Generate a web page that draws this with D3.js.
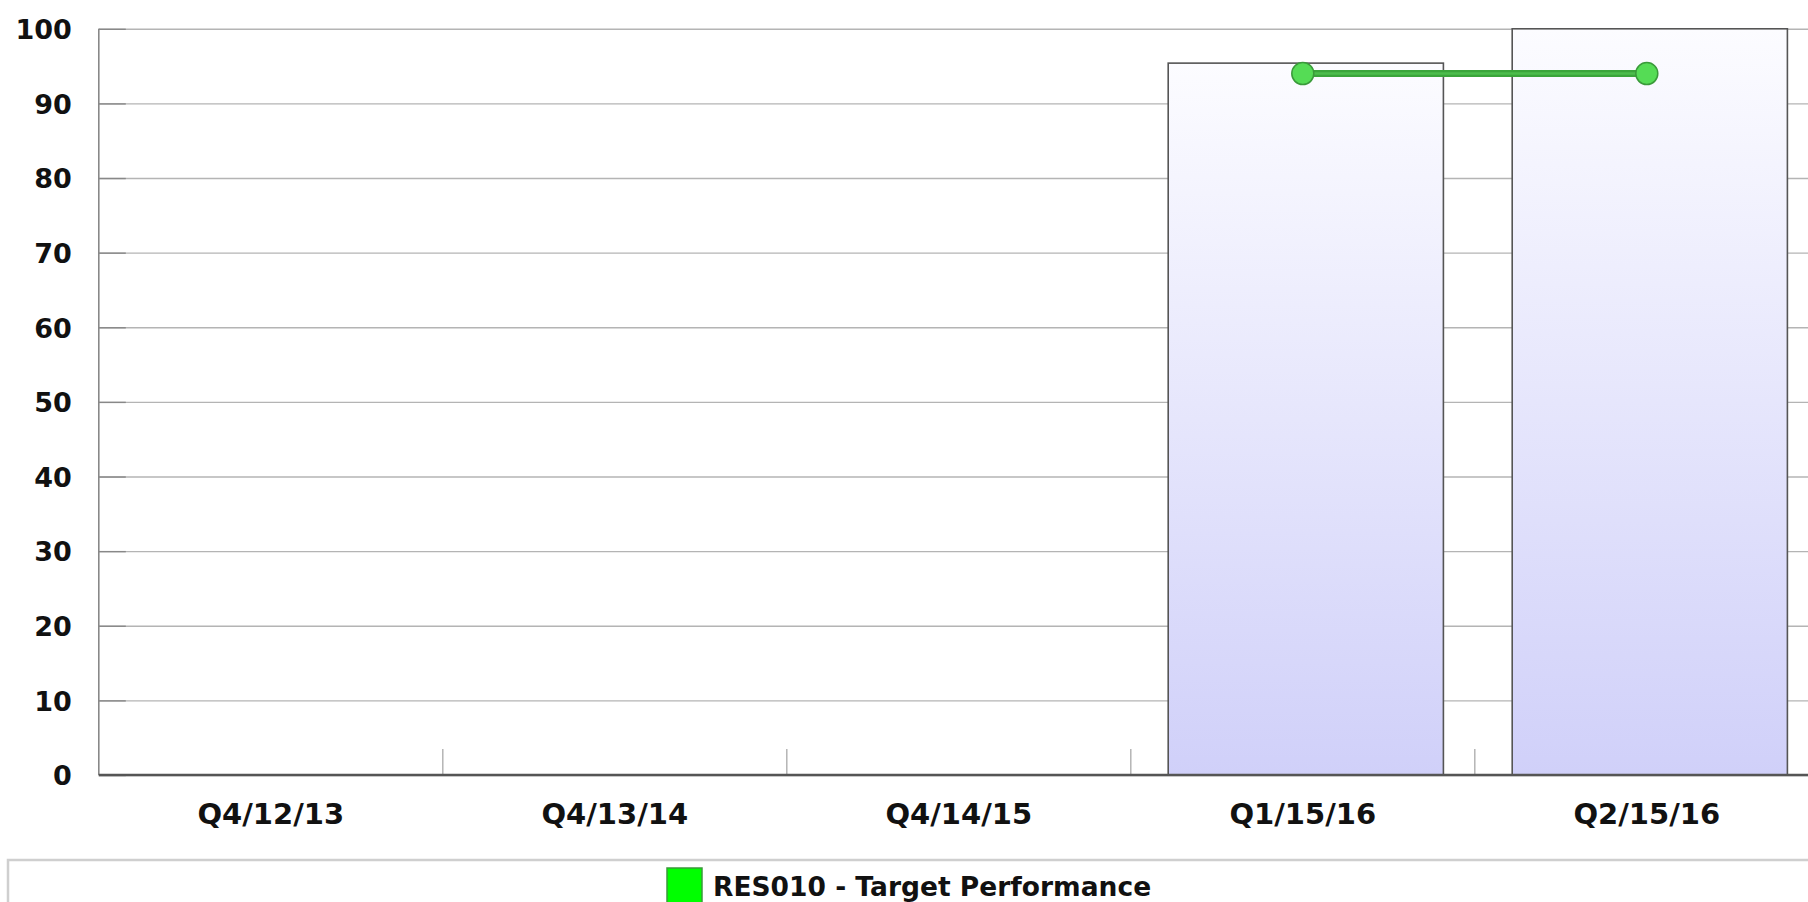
<!DOCTYPE html>
<html>
<head>
<meta charset="utf-8">
<script src="https://cdn.jsdelivr.net/npm/d3@7"></script>
<style>
  body { margin: 0; background: #fff; }
  svg { display: block; }
  .lbl { font-family: "DejaVu Sans", Verdana, sans-serif; font-weight: bold; fill: #111; }
</style>
</head>
<body>
<div id="chart"></div>
<script>
// data
const categories = ["Q4/12/13", "Q4/13/14", "Q4/14/15", "Q1/15/16", "Q2/15/16"];
const actualValues = [null, null, null, 95.4, 100];
const targetValues = [null, null, null, 94, 94];
const yTicks = [0, 10, 20, 30, 40, 50, 60, 70, 80, 90, 100];
const legendLabel = "RES010 - Target Performance";

const W = 1808, H = 902;
const plotLeft = 98.8, step = 344, plotTop = 28.8, plotBottom = 775;

const svg = d3.select("#chart").append("svg")
    .attr("width", W)
    .attr("height", H);

svg.append("rect").attr("width", W).attr("height", H).attr("fill", "#fff");

const x = d3.scaleBand()
    .domain(categories)
    .range([plotLeft, plotLeft + step * categories.length])
    .paddingInner(0.2)
    .paddingOuter(0.1);

const y = d3.scaleLinear()
    .domain([0, 100])
    .range([plotBottom, plotTop]);

// bar gradient
const defs = svg.append("defs");
const grad = defs.append("linearGradient")
    .attr("id", "barGrad")
    .attr("x1", 0).attr("y1", 0).attr("x2", 0).attr("y2", 1);
grad.append("stop").attr("offset", "0%").attr("stop-color", "#fcfcff");
grad.append("stop").attr("offset", "100%").attr("stop-color", "#d0d0f9");

// gridlines
svg.append("g")
    .attr("transform", `translate(${plotLeft},0)`)
    .call(d3.axisLeft(y).tickValues(yTicks).tickSize(-(W - plotLeft)).tickFormat(""))
    .call(g => g.select(".domain").remove())
    .call(g => g.selectAll("line").attr("stroke", "#b4b4b4").attr("stroke-width", 1.4));

// short darker ticks inside the plot
svg.append("g")
    .attr("transform", `translate(${plotLeft},0)`)
    .call(d3.axisRight(y).tickValues(yTicks).tickSize(27).tickFormat(""))
    .call(g => g.select(".domain").remove())
    .call(g => g.selectAll("line").attr("stroke", "#888").attr("stroke-width", 1.4));

// y labels
svg.append("g")
    .attr("transform", `translate(${plotLeft},0)`)
    .call(d3.axisLeft(y).tickValues(yTicks).tickSize(0).tickPadding(27))
    .call(g => g.select(".domain").remove())
    .call(g => g.selectAll("text")
        .attr("class", "lbl")
        .style("font-size", "27px")
        .attr("dy", "0.36em"));

// category separators
const pad = x.step() * x.paddingOuter();
svg.append("g").selectAll("line")
    .data(categories.slice(1))
    .join("line")
    .attr("x1", d => x(d) - pad)
    .attr("x2", d => x(d) - pad)
    .attr("y1", plotBottom - 26)
    .attr("y2", plotBottom)
    .attr("stroke", "#b0b0b0")
    .attr("stroke-width", 1.4);

// bars
svg.append("g").selectAll("rect")
    .data(categories.map((c, i) => ({ c, v: actualValues[i] })).filter(d => d.v != null))
    .join("rect")
    .attr("x", d => x(d.c) + 3)
    .attr("y", d => y(d.v))
    .attr("width", x.bandwidth())
    .attr("height", d => y(0) - y(d.v))
    .attr("fill", "url(#barGrad)")
    .attr("stroke", "#555")
    .attr("stroke-width", 1.6);

// y axis line
svg.append("line")
    .attr("x1", plotLeft).attr("x2", plotLeft)
    .attr("y1", plotTop).attr("y2", plotBottom)
    .attr("stroke", "#888")
    .attr("stroke-width", 1.6);

// x axis
svg.append("g")
    .attr("transform", `translate(0,${plotBottom})`)
    .call(d3.axisBottom(x).tickSize(0).tickPadding(28))
    .call(g => g.select(".domain").attr("d", `M${plotLeft},0H${W}`).attr("stroke", "#555").attr("stroke-width", 2.4))
    .call(g => g.selectAll("text")
        .attr("class", "lbl")
        .style("font-size", "29px")
        .attr("dy", "0.71em"));

// target line
const targetPts = categories.map((c, i) => ({ c, v: targetValues[i] })).filter(d => d.v != null);
const line = d3.line()
    .x(d => x(d.c) + x.bandwidth() / 2)
    .y(d => y(d.v));

svg.append("path")
    .datum(targetPts)
    .attr("d", line)
    .attr("fill", "none")
    .attr("stroke", "#3aa53a")
    .attr("stroke-width", 7);

svg.append("path")
    .datum(targetPts)
    .attr("d", line)
    .attr("fill", "none")
    .attr("stroke", "#4cbd4c")
    .attr("stroke-width", 2.5);

svg.append("g").selectAll("circle")
    .data(targetPts)
    .join("circle")
    .attr("cx", d => x(d.c) + x.bandwidth() / 2)
    .attr("cy", d => y(d.v))
    .attr("r", 11)
    .attr("fill", "#55dc55")
    .attr("stroke", "#3a9a3a")
    .attr("stroke-width", 1.5);

// legend
const legend = svg.append("g");
legend.append("rect")
    .attr("x", 8).attr("y", 860)
    .attr("width", W + 20).attr("height", 80)
    .attr("fill", "#fff")
    .attr("stroke", "#cfcfcf")
    .attr("stroke-width", 2.5);
legend.append("rect")
    .attr("x", 667).attr("y", 868)
    .attr("width", 35).attr("height", 40)
    .attr("fill", "#00ff00")
    .attr("stroke", "#3a9a3a")
    .attr("stroke-width", 1.5);
legend.append("text")
    .attr("class", "lbl")
    .attr("x", 713)
    .attr("y", 896)
    .style("font-size", "26.5px")
    .text(legendLabel);
</script>
</body>
</html>
